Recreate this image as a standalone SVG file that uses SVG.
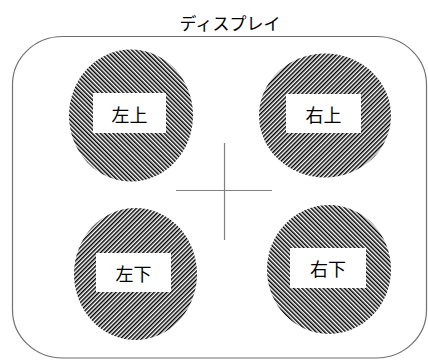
<svg xmlns="http://www.w3.org/2000/svg" width="428" height="360" viewBox="0 0 428 360">
  <style>
    .frame { fill: none; stroke: #707070; stroke-width: 1.2; }
    .cross { stroke: #808080; stroke-width: 1.2; }
    .label { font-family: "Noto Sans CJK JP", "Liberation Sans", sans-serif; font-size: 18px; fill: #000; text-anchor: middle; dominant-baseline: central; }
    .title { font-family: "Noto Sans CJK JP", "Liberation Sans", sans-serif; font-size: 17px; fill: #000; text-anchor: middle; dominant-baseline: central; }
    .box { fill: #fff; }
  </style>
  <defs>
    <pattern id="hatchBack" patternUnits="userSpaceOnUse" width="3" height="3" patternTransform="rotate(-45)">
      <rect x="0" y="0" width="1.5" height="3" fill="#000"/>
    </pattern>
    <pattern id="hatchFwd" patternUnits="userSpaceOnUse" width="3" height="3" patternTransform="rotate(45)">
      <rect x="0" y="0" width="1.5" height="3" fill="#000"/>
    </pattern>
  </defs>
  <rect width="428" height="360" fill="#fff"/>
  <g id="display">
    <text class="title" x="230" y="22">ディスプレイ</text>
    <rect class="frame" x="12.5" y="36.5" width="414" height="321.5" rx="50" ry="48"/>
  </g>
  <g id="crosshair">
    <line class="cross" x1="224.5" y1="143" x2="224.5" y2="240"/>
    <line class="cross" x1="176" y1="190.5" x2="272" y2="190.5"/>
  </g>
  <g id="top-left">
    <ellipse cx="131" cy="115.5" rx="62" ry="66" fill="url(#hatchBack)"/>
    <rect class="box" x="93" y="93" width="73" height="40"/>
    <text class="label" x="129.5" y="114">左上</text>
  </g>
  <g id="top-right">
    <ellipse cx="325" cy="115.5" rx="66" ry="62" fill="url(#hatchFwd)"/>
    <rect class="box" x="286" y="94" width="75" height="39"/>
    <text class="label" x="323.5" y="114">右上</text>
  </g>
  <g id="bottom-left">
    <ellipse cx="135.5" cy="274" rx="61.5" ry="66" fill="url(#hatchFwd)"/>
    <rect class="box" x="96" y="253" width="75" height="39"/>
    <text class="label" x="133.5" y="273">左下</text>
  </g>
  <g id="bottom-right">
    <ellipse cx="329" cy="269.5" rx="62" ry="64.5" fill="url(#hatchBack)"/>
    <rect class="box" x="290" y="248" width="76" height="40"/>
    <text class="label" x="328" y="268">右下</text>
  </g>
</svg>
